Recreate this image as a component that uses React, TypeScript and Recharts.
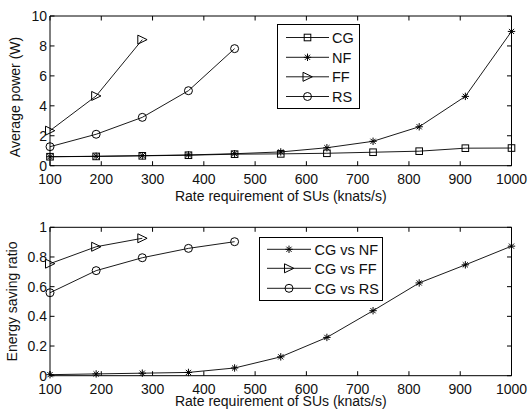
import { LineChart, Line, XAxis, YAxis, ReferenceArea } from 'recharts';

// Rate requirement of SUs (knats/s)
const rates = [100, 190, 280, 370, 460, 550, 640, 730, 820, 910, 1000];

// Average power (W)
const powerCG = [0.6, 0.62, 0.66, 0.7, 0.77, 0.79, 0.83, 0.9, 0.97, 1.17, 1.18];
const powerNF = [0.6, 0.63, 0.67, 0.72, 0.8, 0.92, 1.2, 1.63, 2.6, 4.63, 8.97];
const powerFF = [2.34, 4.66, 8.42];
const powerRS = [1.27, 2.1, 3.23, 5.01, 7.82];

// Energy saving ratio
const ratioNF = [0.007, 0.012, 0.017, 0.022, 0.052, 0.127, 0.258, 0.438, 0.625, 0.747, 0.873];
const ratioFF = [0.755, 0.869, 0.926];
const ratioRS = [0.559, 0.708, 0.795, 0.858, 0.903];

const xTicks = [100, 200, 300, 400, 500, 600, 700, 800, 900, 1000];
const powerTicks = [0, 2, 4, 6, 8, 10];
const ratioTicks = [0, 0.2, 0.4, 0.6, 0.8, 1];

const FONT = '"Liberation Sans", Arial, Helvetica, sans-serif';
const INK = '#111';
const TICK_LEN = 4.5;
const W = 529;
const H = 206;
const PLOT_LEFT = 50;
const PLOT_RIGHT = 511.5;
const TICK_FS = 14;
const LABEL_FS = 14;
const LEGEND_FS = 14.5;

const at = (arr: number[], i: number) => (i < arr.length ? arr[i] : null);

const powerData = rates.map((r, i) => ({
  rate: r,
  cg: at(powerCG, i),
  nf: at(powerNF, i),
  ff: at(powerFF, i),
  rs: at(powerRS, i),
}));

const ratioData = rates.map((r, i) => ({
  rate: r,
  nf: at(ratioNF, i),
  ff: at(ratioFF, i),
  rs: at(ratioRS, i),
}));

type MarkerKind = 'square' | 'star' | 'tri' | 'circle';

function Marker({ kind, cx, cy }: { kind: MarkerKind; cx: number; cy: number }) {
  const s = { stroke: '#000', strokeWidth: 1, fill: 'none' };
  if (kind === 'square') {
    return <rect x={cx - 3.3} y={cy - 3.3} width={6.6} height={6.6} {...s} />;
  }
  if (kind === 'circle') {
    return <circle cx={cx} cy={cy} r={4} {...s} />;
  }
  if (kind === 'tri') {
    return (
      <polygon
        points={`${cx - 4.5},${cy - 4.5} ${cx - 4.5},${cy + 4.5} ${cx + 4.8},${cy}`}
        {...s}
      />
    );
  }
  const r = 3.7;
  const d = r * 0.7;
  return (
    <g {...s}>
      <line x1={cx - r} x2={cx + r} y1={cy} y2={cy} />
      <line x1={cx} x2={cx} y1={cy - r} y2={cy + r} />
      <line x1={cx - d} x2={cx + d} y1={cy - d} y2={cy + d} />
      <line x1={cx - d} x2={cx + d} y1={cy + d} y2={cy - d} />
    </g>
  );
}

const dotOf = (kind: MarkerKind) => (props: any) => {
  const { cx, cy, index, value } = props;
  if (cx == null || cy == null || value == null) return <g key={`e-${kind}-${index}`} />;
  return (
    <g key={`${kind}-${index}`}>
      <Marker kind={kind} cx={cx} cy={cy} />
    </g>
  );
};

const xTick = (top: number, bottom: number) => (props: any) => {
  const { x, payload } = props;
  return (
    <g>
      <line x1={x} x2={x} y1={bottom} y2={bottom - TICK_LEN} stroke="#000" />
      <line x1={x} x2={x} y1={top} y2={top + TICK_LEN} stroke="#000" />
      <text x={x} y={bottom + 18} textAnchor="middle" fontSize={TICK_FS} fill={INK} fontFamily={FONT}>
        {payload.value}
      </text>
    </g>
  );
};

const yTick = (props: any) => {
  const { y, payload } = props;
  return (
    <g>
      <line x1={PLOT_LEFT} x2={PLOT_LEFT + TICK_LEN} y1={y} y2={y} stroke="#000" />
      <line x1={PLOT_RIGHT} x2={PLOT_RIGHT - TICK_LEN} y1={y} y2={y} stroke="#000" />
      <text x={PLOT_LEFT - 3} y={y + 5} textAnchor="end" fontSize={TICK_FS} fill={INK} fontFamily={FONT}>
        {payload.value}
      </text>
    </g>
  );
};

const xTitle = (text: string, baseline: number) => () => (
  <text
    x={(PLOT_LEFT + PLOT_RIGHT) / 2}
    y={baseline}
    textAnchor="middle"
    fontSize={LABEL_FS}
    fill={INK}
    fontFamily={FONT}
  >
    {text}
  </text>
);

const yTitle = (text: string, x: number, cy: number) => () => (
  <text
    x={x}
    y={cy}
    transform={`rotate(-90 ${x} ${cy})`}
    textAnchor="middle"
    fontSize={LABEL_FS}
    fill={INK}
    fontFamily={FONT}
  >
    {text}
  </text>
);

interface LegendBoxProps {
  left: number;
  top: number;
  width: number;
  height: number;
  lineX: [number, number];
  textX: number;
  rows: { label: string; kind: MarkerKind; y: number }[];
}

function LegendBox({ left, top, width, height, lineX, textX, rows }: LegendBoxProps) {
  const mid = (lineX[0] + lineX[1]) / 2;
  return (
    <svg
      width={width}
      height={height}
      style={{ position: 'absolute', left, top, overflow: 'visible' }}
    >
      <rect x={0.5} y={0.5} width={width - 1} height={height - 1} fill="#fff" stroke="#000" />
      {rows.map((r) => (
        <g key={r.label}>
          <line x1={lineX[0]} x2={lineX[1]} y1={r.y} y2={r.y} stroke="#000" strokeWidth={0.9} />
          <Marker kind={r.kind} cx={mid} cy={r.y} />
          <text x={textX} y={r.y + 5.2} fontSize={LEGEND_FS} fill={INK} fontFamily={FONT}>
            {r.label}
          </text>
        </g>
      ))}
    </svg>
  );
}

const TOP1 = 16;
const BOT1 = 165.7;
const TOP2 = 21.3;
const BOT2 = 169.7;

export default function App() {
  return (
    <div style={{ position: 'absolute', left: 0, top: 0, width: W, height: 412, background: '#fff' }}>
      <div style={{ position: 'relative', width: W, height: H }}>
        <LineChart
          width={W}
          height={H}
          data={powerData}
          margin={{ top: TOP1, right: W - PLOT_RIGHT, bottom: 0, left: 0 }}
        >
          <XAxis
            dataKey="rate"
            type="number"
            domain={[100, 1000]}
            ticks={xTicks}
            interval={0}
            height={H - BOT1}
            axisLine={false}
            tickLine={false}
            tick={xTick(TOP1, BOT1)}
            label={{ content: xTitle('Rate requirement of SUs (knats/s)', 201) }}
          />
          <YAxis
            type="number"
            domain={[0, 10]}
            ticks={powerTicks}
            interval={0}
            width={PLOT_LEFT}
            axisLine={false}
            tickLine={false}
            tick={yTick}
            label={{ content: yTitle('Average power (W)', 20, 97) }}
          />
          <ReferenceArea x1={100} x2={1000} y1={0} y2={10} fill="none" stroke="#000" strokeWidth={1} />
          <Line dataKey="cg" stroke="#000" strokeWidth={0.9} dot={dotOf('square')} isAnimationActive={false} />
          <Line dataKey="nf" stroke="#000" strokeWidth={0.9} dot={dotOf('star')} isAnimationActive={false} />
          <Line dataKey="ff" stroke="#000" strokeWidth={0.9} dot={dotOf('tri')} isAnimationActive={false} />
          <Line dataKey="rs" stroke="#000" strokeWidth={0.9} dot={dotOf('circle')} isAnimationActive={false} />
        </LineChart>
        <LegendBox
          left={277}
          top={24}
          width={83}
          height={85}
          lineX={[9, 52]}
          textX={55}
          rows={[
            { label: 'CG', kind: 'square', y: 13.5 },
            { label: 'NF', kind: 'star', y: 33.3 },
            { label: 'FF', kind: 'tri', y: 52.8 },
            { label: 'RS', kind: 'circle', y: 72.5 },
          ]}
        />
      </div>
      <div style={{ position: 'relative', width: W, height: H }}>
        <LineChart
          width={W}
          height={H}
          data={ratioData}
          margin={{ top: TOP2, right: W - PLOT_RIGHT, bottom: 0, left: 0 }}
        >
          <XAxis
            dataKey="rate"
            type="number"
            domain={[100, 1000]}
            ticks={xTicks}
            interval={0}
            height={H - BOT2}
            axisLine={false}
            tickLine={false}
            tick={xTick(TOP2, BOT2)}
            label={{ content: xTitle('Rate requirement of SUs (knats/s)', 199.8) }}
          />
          <YAxis
            type="number"
            domain={[0, 1]}
            ticks={ratioTicks}
            interval={0}
            width={PLOT_LEFT}
            axisLine={false}
            tickLine={false}
            tick={yTick}
            label={{ content: yTitle('Energy saving ratio', 17, (TOP2 + BOT2) / 2) }}
          />
          <ReferenceArea x1={100} x2={1000} y1={0} y2={1} fill="none" stroke="#000" strokeWidth={1} />
          <Line dataKey="nf" stroke="#000" strokeWidth={0.9} dot={dotOf('star')} isAnimationActive={false} />
          <Line dataKey="ff" stroke="#000" strokeWidth={0.9} dot={dotOf('tri')} isAnimationActive={false} />
          <Line dataKey="rs" stroke="#000" strokeWidth={0.9} dot={dotOf('circle')} isAnimationActive={false} />
        </LineChart>
        <LegendBox
          left={259}
          top={31}
          width={124}
          height={64}
          lineX={[8, 52]}
          textX={55.5}
          rows={[
            { label: 'CG vs NF', kind: 'star', y: 12.3 },
            { label: 'CG vs FF', kind: 'tri', y: 31.3 },
            { label: 'CG vs RS', kind: 'circle', y: 51.3 },
          ]}
        />
      </div>
    </div>
  );
}
